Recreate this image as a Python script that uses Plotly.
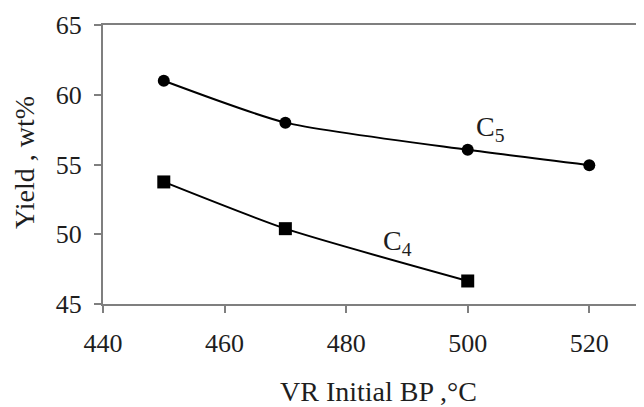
import plotly.graph_objects as go

x_c5 = [450, 470, 500, 520]
y_c5 = [61.0, 58.0, 56.05, 54.95]
x_c4 = [450, 470, 500]
y_c4 = [53.75, 50.4, 46.65]

x_ticks = [440, 460, 480, 500, 520]
y_ticks = [45, 50, 55, 60, 65]

FONT = "Liberation Serif"
AX = "#7f7f7f"
TXT = "#1e1e1e"

# the page body adds an 8px offset; compensate so the plot lands where the reference has it
W, H = 636, 399

fig = go.Figure()
fig.add_trace(go.Scatter(x=x_c5, y=y_c5, mode="lines+markers",
                         line=dict(color="black", width=2, shape="spline", smoothing=0.6),
                         marker=dict(symbol="circle", size=12, color="black"),
                         showlegend=False, cliponaxis=False))
fig.add_trace(go.Scatter(x=x_c4, y=y_c4, mode="lines+markers",
                         line=dict(color="black", width=2, shape="spline", smoothing=0.6),
                         marker=dict(symbol="square", size=13, color="black"),
                         showlegend=False, cliponaxis=False))

fig.add_annotation(x=503.8, y=57.6, text="C<sub>5</sub>", showarrow=False,
                   font=dict(family=FONT, size=28, color=TXT))
fig.add_annotation(x=488.4, y=49.4, text="C<sub>4</sub>", showarrow=False,
                   font=dict(family=FONT, size=28, color=TXT))

# axis titles
fig.add_annotation(xref="paper", yref="paper", x=(378 - 103) / (644 - 103),
                   y=-(392 - 304) / (304 - 25), xanchor="center", yanchor="middle",
                   text="VR Initial BP ,°C", showarrow=False,
                   font=dict(family=FONT, size=28, color=TXT))
fig.add_annotation(xref="paper", yref="paper", x=-(103 - 24) / (644 - 103),
                   y=(304 - 163) / (304 - 25), xanchor="center", yanchor="middle",
                   text="Yield , wt%", textangle=-90, showarrow=False,
                   font=dict(family=FONT, size=28, color=TXT))

fig.update_layout(
    width=W, height=H,
    margin=dict(l=95, r=0, t=17, b=103, autoexpand=False),
    paper_bgcolor="white", plot_bgcolor="white",
    font=dict(family=FONT, color=TXT, size=26),
    xaxis=dict(range=[440, 529], tickvals=x_ticks, showgrid=False, zeroline=False,
               showline=True, linecolor=AX, linewidth=2, mirror=True,
               ticks="outside", ticklen=7, tickcolor=AX, tickwidth=1.5,
               ticklabelstandoff=8, tickfont=dict(size=26), automargin=False),
    yaxis=dict(range=[45, 65], tickvals=y_ticks, showgrid=False, zeroline=False,
               showline=True, linecolor=AX, linewidth=2,
               ticks="outside", ticklen=7, tickcolor=AX, tickwidth=1.5,
               ticklabelstandoff=7, tickfont=dict(size=26), automargin=False),
)

fig.write_html("out.html")
